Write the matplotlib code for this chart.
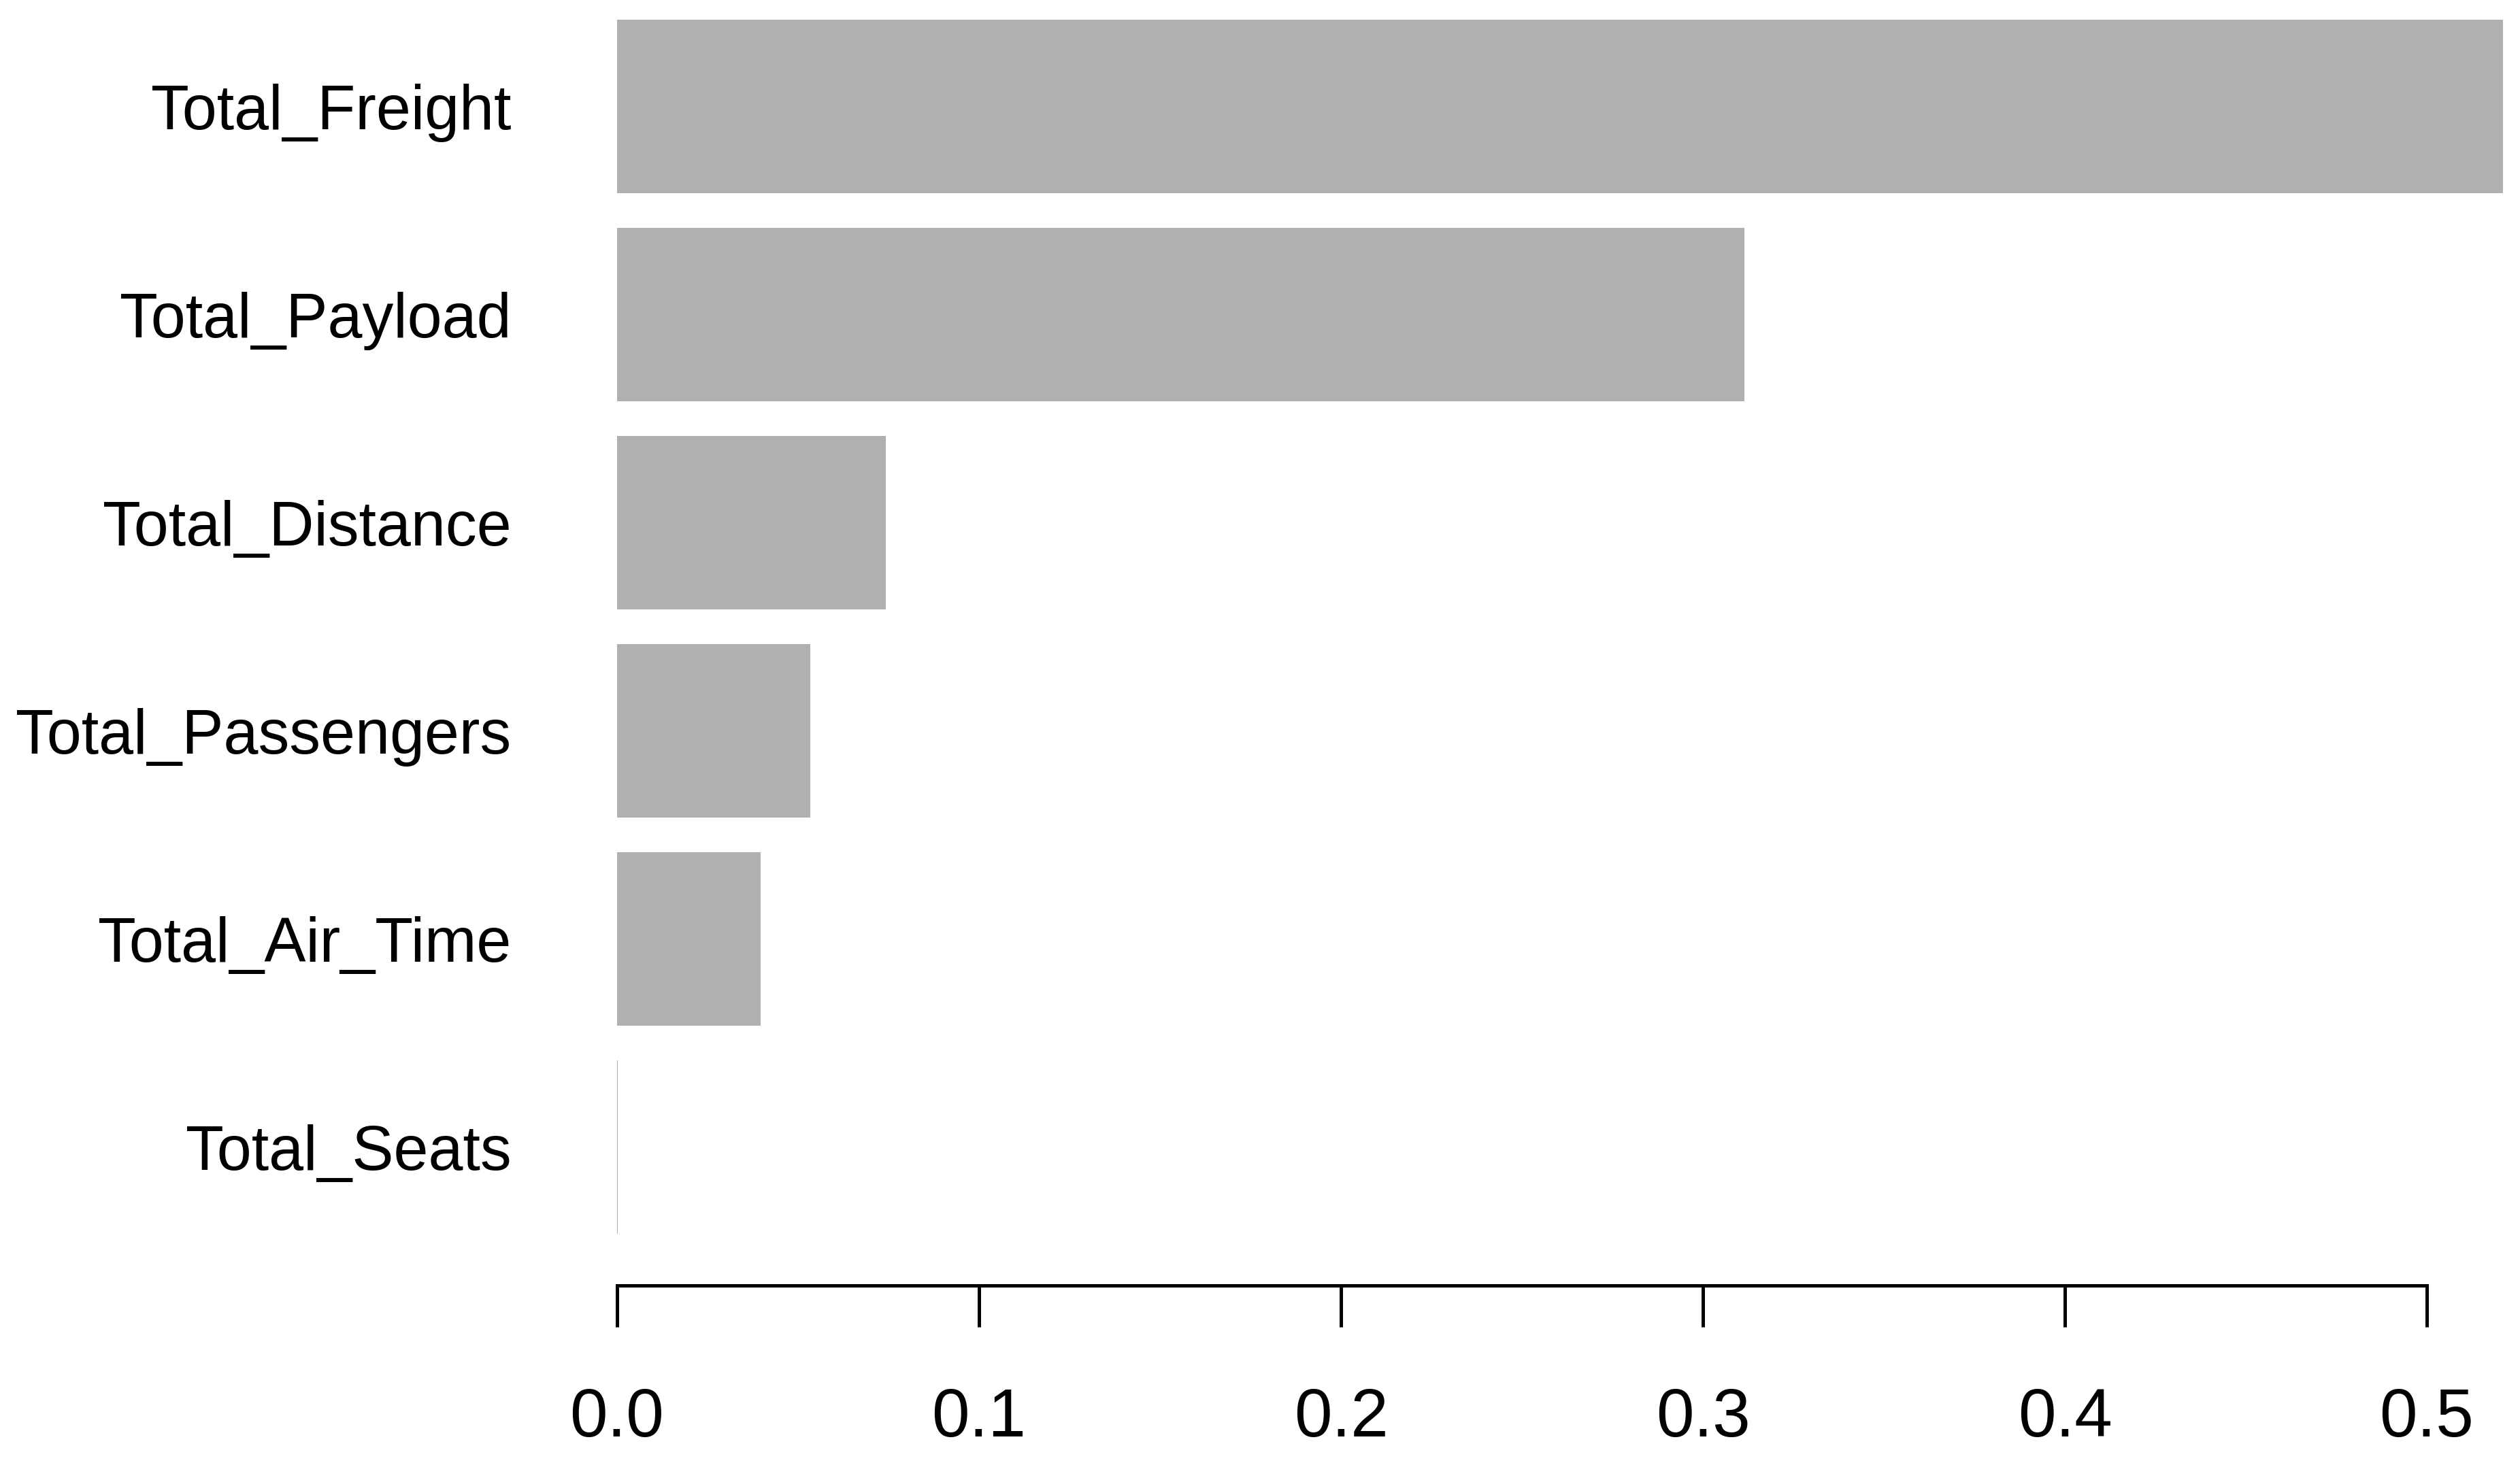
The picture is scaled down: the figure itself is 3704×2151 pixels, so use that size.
import matplotlib
matplotlib.use("Agg")
import matplotlib.pyplot as plt

# feature importance, top to bottom
features = ["Total_Freight", "Total_Payload", "Total_Distance",
            "Total_Passengers", "Total_Air_Time", "Total_Seats"]
importance = [0.5211, 0.3115, 0.0742, 0.0534, 0.0396, 0.0001]
xticks = [0.0, 0.1, 0.2, 0.3, 0.4, 0.5]

plt.rcParams["font.family"] = ["Liberation Sans", "DejaVu Sans"]

fig = plt.figure(figsize=(37.04, 21.51), dpi=100)
ax = fig.add_axes([0.24487, 0.12134, 0.75513, 0.87866])

ypos = list(range(len(features)))
ax.barh(ypos, importance, height=0.833, color="#b0b0b0", edgecolor="none")

ax.set_xlim(0, 0.52575)
ax.set_ylim(5.665, -0.5114)

ax.set_yticks(ypos)
ax.set_yticklabels(features, fontsize=66, va="center_baseline")
ax.tick_params(axis="y", length=0, pad=112)

ax.set_xticks(xticks)
ax.set_xticklabels([f"{v:.1f}" for v in xticks], fontsize=72)
ax.tick_params(axis="x", direction="out", length=44, width=3.6, pad=63)

for s in ["top", "right", "left"]:
    ax.spines[s].set_visible(False)
ax.spines["bottom"].set_bounds(0, 0.5)
ax.spines["bottom"].set_linewidth(3.6)

fig.savefig("out.png", dpi=100, facecolor="white")
